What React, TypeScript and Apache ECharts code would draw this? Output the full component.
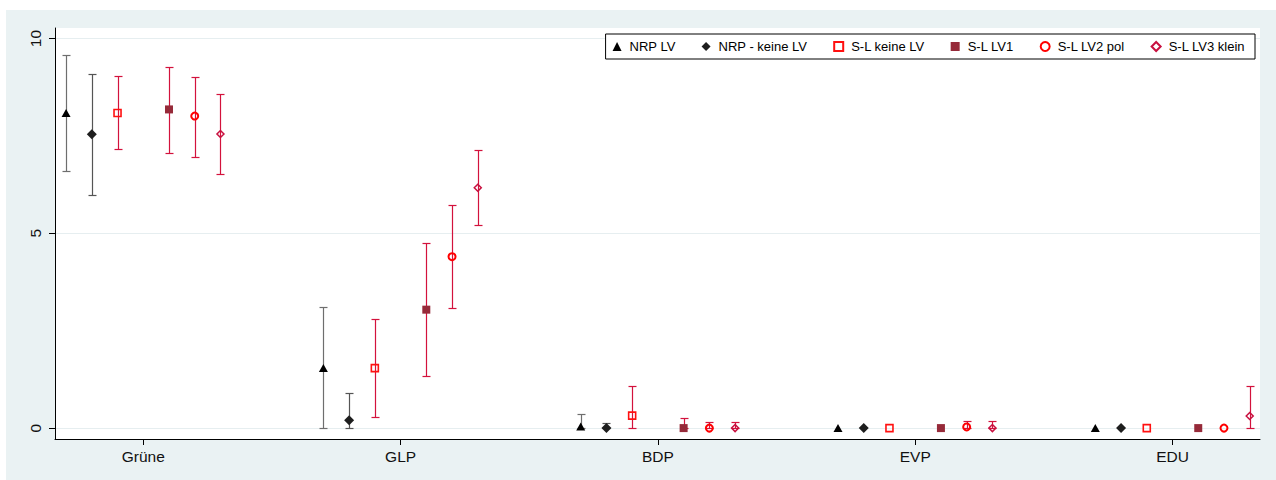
import React, { useEffect, useRef } from "react";
import * as echarts from "echarts";

const categories = ["Grüne", "GLP", "BDP", "EVP", "EDU"];
const seriesNames = ["NRP LV", "NRP - keine LV", "S-L keine LV", "S-L LV1", "S-L LV2 pol", "S-L LV3 klein"];

const nrpLV = [8.09, 1.54, 0.04, 0, 0];
const nrpLVLow = [6.6, 0, 0, 0, 0];
const nrpLVHigh = [9.58, 3.11, 0.37, 0, 0];

const nrpKeine = [7.54, 0.2, 0, 0, 0];
const nrpKeineLow = [5.98, 0, 0, 0, 0];
const nrpKeineHigh = [9.08, 0.9, 0.14, 0, 0];

const slKeine = [8.09, 1.54, 0.32, 0, 0];
const slKeineLow = [7.16, 0.28, 0, 0, 0];
const slKeineHigh = [9.03, 2.8, 1.07, 0, 0];

const slLV1 = [8.18, 3.04, 0, 0, 0];
const slLV1Low = [7.05, 1.33, 0, 0, 0];
const slLV1High = [9.27, 4.76, 0.25, 0, 0];

const slLV2 = [8.01, 4.4, 0, 0.03, 0];
const slLV2Low = [6.97, 3.08, 0, 0, 0];
const slLV2High = [9.0, 5.72, 0.15, 0.19, 0];

const slLV3 = [7.55, 6.17, 0, 0, 0.31];
const slLV3Low = [6.52, 5.21, 0, 0, 0];
const slLV3High = [8.58, 7.14, 0.15, 0.19, 1.08];

const yTicks = [0, 5, 10];

const FONT = "'Liberation Sans', Arial, Helvetica, sans-serif";

export default function App() {
  const ref = useRef<HTMLDivElement>(null);

  useEffect(() => {
    if (!ref.current) return;
    const chart = echarts.init(ref.current, undefined, { renderer: "svg" });

    const centers = categories.map((_, i) => 4 + 10 * i);
    const offsets = [-3, -2, -1, 1, 2, 3];
    const ests = [nrpLV, nrpKeine, slKeine, slLV1, slLV2, slLV3];
    const lows = [nrpLVLow, nrpKeineLow, slKeineLow, slLV1Low, slLV2Low, slLV3Low];
    const highs = [nrpLVHigh, nrpKeineHigh, slKeineHigh, slLV1High, slLV2High, slLV3High];

    const crimson = "#d3123c";
    const barColors = ["#6e6e6e", "#555555", crimson, crimson, crimson, crimson];
    const markerStyles: any[] = [
      { symbol: "triangle", symbolSize: [9, 8], itemStyle: { color: "#000000", opacity: 1 } },
      { symbol: "diamond", symbolSize: [10, 10], itemStyle: { color: "#1e1e1e", opacity: 1 } },
      { symbol: "rect", symbolSize: 7, itemStyle: { color: "rgba(255,255,255,0)", borderColor: "#ff1010", borderWidth: 1.6, opacity: 1 } },
      { symbol: "rect", symbolSize: 8, itemStyle: { color: "#962a39", opacity: 1 } },
      { symbol: "circle", symbolSize: 7, itemStyle: { color: "rgba(255,255,255,0)", borderColor: "#ff0000", borderWidth: 2, opacity: 1 } },
      { symbol: "diamond", symbolSize: 7, itemStyle: { color: "rgba(255,255,255,0)", borderColor: "#c8103f", borderWidth: 1.5, opacity: 1 } },
    ];

    const errSeries = seriesNames.map((name, s) => ({
      type: "custom",
      name: name + " CI",
      z: 1,
      silent: true,
      encode: { x: 0, y: [1, 2] },
      data: categories.map((_, i) => [centers[i] + offsets[s], lows[s][i], highs[s][i]]),
      renderItem: (params: any, api: any) => {
        const x = api.value(0);
        const lo = api.value(1);
        const hi = api.value(2);
        if (hi - lo <= 0) return { type: "group", children: [] };
        const pLo = api.coord([x, lo]);
        const pHi = api.coord([x, hi]);
        const px = Math.round(pLo[0]) + 0.5;
        const yLo = Math.round(pLo[1]) + 0.5;
        const yHi = Math.round(pHi[1]) + 0.5;
        const style = { stroke: barColors[s], lineWidth: 1.2 };
        const hw = 4;
        return {
          type: "group",
          children: [
            { type: "line", shape: { x1: px, y1: yLo, x2: px, y2: yHi }, style },
            { type: "line", shape: { x1: px - hw, y1: yLo, x2: px + hw, y2: yLo }, style },
            { type: "line", shape: { x1: px - hw, y1: yHi, x2: px + hw, y2: yHi }, style },
          ],
        };
      },
    }));

    const pointSeries = seriesNames.map((name, s) => {
      const base: any = {
        type: "scatter",
        name,
        z: 3,
        ...markerStyles[s],
        data: categories.map((_, i) => [centers[i] + offsets[s], ests[s][i]]),
      };
      if (s === 0) {
        base.markLine = {
          silent: true,
          symbol: ["none", "none"],
          label: { show: false },
          lineStyle: { color: "#e6eef0", type: "solid", width: 1 },
          z: 0,
          data: yTicks.map((v) => ({ yAxis: v })),
        };
      }
      return base;
    });

    chart.setOption({
      animation: false,
      backgroundColor: "#eaf2f3",
      textStyle: { fontFamily: FONT },
      grid: { left: 49, right: 16, top: 18, bottom: 41, show: true, backgroundColor: "#ffffff", borderWidth: 0 },
      legend: {
        data: seriesNames,
        right: 21,
        top: 24,
        orient: "horizontal",
        backgroundColor: "#ffffff",
        borderColor: "#000000",
        borderWidth: 1,
        borderRadius: 0,
        padding: [6, 10, 6, 7],
        itemGap: 26,
        itemWidth: 9,
        itemHeight: 9,
        textStyle: { fontSize: 13, color: "#000000", fontFamily: FONT, padding: [0, 0, 0, 3] },
        selectedMode: false,
      },
      xAxis: {
        type: "value",
        min: 0.57,
        max: 47.4,
        axisLine: { show: true, onZero: false, lineStyle: { color: "#000000", width: 1 } },
        axisTick: { show: true, length: 6, customValues: centers, lineStyle: { color: "#000000" } },
        axisLabel: {
          customValues: centers,
          margin: 9,
          fontSize: 15.5,
          color: "#111111",
          fontFamily: FONT,
          formatter: (v: number) => {
            const idx = centers.indexOf(Math.round(v));
            return idx >= 0 ? categories[idx] : "";
          },
        },
        splitLine: { show: false },
      },
      yAxis: {
        type: "value",
        min: -0.28,
        max: 10.27,
        axisLine: { show: true, onZero: false, lineStyle: { color: "#000000", width: 1 } },
        axisTick: { show: true, length: 6, customValues: yTicks, lineStyle: { color: "#000000" } },
        axisLabel: {
          customValues: yTicks,
          rotate: 90,
          margin: 12,
          fontSize: 15.5,
          color: "#111111",
          fontFamily: FONT,
        },
        splitLine: { show: false },
      },
      series: [...errSeries, ...pointSeries],
    });

    return () => chart.dispose();
  }, []);

  return (
    <div
      ref={ref}
      style={{ position: "absolute", left: 6, top: 10, width: 1270, height: 470 }}
    />
  );
}
